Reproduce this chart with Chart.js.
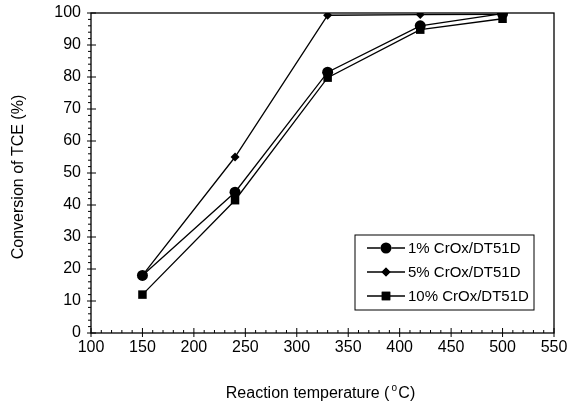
<!DOCTYPE html>
<html>
<head>
<meta charset="utf-8">
<script src="https://cdn.jsdelivr.net/npm/chart.js@4"></script>
<style>
    html, body { margin: 0; padding: 0; background: #fff; }
    #wrap { width: 581px; height: 409px; position: relative; }
</style>
</head>
<body>
<div id="wrap"><canvas id="myChart"></canvas></div>
<script>
const temps = [150, 240, 330, 420, 500];
const cr1 = [18, 44, 81.5, 96, 99.8];
const cr5 = [18, 55, 99.3, 99.5, 99.6];
const cr10 = [12, 41.5, 79.8, 94.8, 98.2];
const seriesNames = ['1% CrOx/DT51D', '5% CrOx/DT51D', '10% CrOx/DT51D'];
const xTicks = [100, 150, 200, 250, 300, 350, 400, 450, 500, 550];
const yTicks = [0, 10, 20, 30, 40, 50, 60, 70, 80, 90, 100];

const font = 'Liberation Sans, Arial, sans-serif';

function pts(vals) {
    return temps.map((t, i) => ({ x: t, y: vals[i] }));
}

function makeSet(label, vals, style, radius) {
    return {
        label: label,
        data: pts(vals),
        borderColor: '#000',
        backgroundColor: '#000',
        borderWidth: 1.3,
        pointStyle: style,
        pointRadius: radius,
        pointBorderWidth: 0,
        pointBackgroundColor: '#000',
        tension: 0
    };
}

// frame, minor ticks, axis titles and legend box
const decor = {
    id: 'decor',
    afterDraw(chart) {
        const ctx = chart.ctx;
        const a = chart.chartArea;
        const xs = chart.scales.x;
        const ys = chart.scales.y;
        ctx.save();
        ctx.strokeStyle = '#000';
        ctx.lineWidth = 1.3;
        ctx.strokeRect(a.left, a.top, a.right - a.left, a.bottom - a.top);

        ctx.lineWidth = 1;
        ctx.beginPath();
        for (let v = 100; v <= 550; v += 10) {
            const px = xs.getPixelForValue(v);
            if (v % 50 === 0) {
                ctx.moveTo(px, a.bottom - 5); ctx.lineTo(px, a.bottom + 4);
            } else {
                ctx.moveTo(px, a.bottom); ctx.lineTo(px, a.bottom - 3);
            }
        }
        for (let v = 0; v <= 100; v += 2) {
            const py = ys.getPixelForValue(v);
            if (v % 10 === 0) {
                ctx.moveTo(a.left - 4, py); ctx.lineTo(a.left + 5, py);
            } else {
                ctx.moveTo(a.left, py); ctx.lineTo(a.left - 3, py);
            }
        }
        ctx.stroke();

        // axis titles
        ctx.fillStyle = '#000';
        ctx.font = '16px ' + font;
        ctx.textAlign = 'center';
        ctx.textBaseline = 'middle';
        const tx = (a.left + a.right) / 2 - 2;
        ctx.fillText('Reaction temperature (  C)', tx, 394);
        const w = ctx.measureText('Reaction temperature (  C)').width;
        const wC = ctx.measureText('C)').width;
        ctx.font = '10px ' + font;
        ctx.fillText('o', tx + w / 2 - wC - 4, 388);

        ctx.font = '16px ' + font;
        ctx.translate(19, 177);
        ctx.rotate(-Math.PI / 2);
        ctx.fillText('Conversion of TCE (%)', 0, 0);
        ctx.restore();

        // legend
        ctx.save();
        const bx = 355, by = 235, bw = 179, bh = 75;
        ctx.fillStyle = '#fff';
        ctx.fillRect(bx, by, bw, bh);
        ctx.strokeStyle = '#000';
        ctx.lineWidth = 1;
        ctx.strokeRect(bx, by, bw, bh);
        ctx.font = '15px ' + font;
        ctx.textAlign = 'left';
        ctx.textBaseline = 'middle';
        chart.data.datasets.forEach((ds, i) => {
            const y = 248 + i * 24;
            ctx.strokeStyle = '#000';
            ctx.lineWidth = 1.3;
            ctx.beginPath();
            ctx.moveTo(367, y); ctx.lineTo(405, y);
            ctx.stroke();
            Chart.helpers.drawPoint(ctx, {
                pointStyle: ds.pointStyle,
                radius: ds.pointRadius,
                borderWidth: 0
            }, 386, y);
            ctx.fillStyle = '#000';
            ctx.fill();
            ctx.fillText(ds.label, 408, y + 1);
        });
        ctx.restore();
    }
};

const ctx = document.getElementById('myChart').getContext('2d');
const myChart = new Chart(ctx, {
    type: 'line',
    data: {
        datasets: [
            makeSet(seriesNames[0], cr1, 'circle', 5.5),
            makeSet(seriesNames[1], cr5, 'rectRot', 4.5),
            makeSet(seriesNames[2], cr10, 'rect', 6)
        ]
    },
    options: {
        responsive: true,
        maintainAspectRatio: false,
        animation: false,
        layout: { padding: { left: 0, right: 27, top: 13, bottom: 0 } },
        plugins: {
            legend: { display: false },
            tooltip: { enabled: false }
        },
        scales: {
            x: {
                type: 'linear',
                min: 100,
                max: 550,
                afterBuildTicks: (s) => { s.ticks = xTicks.map(v => ({ value: v })); },
                afterFit: (s) => {
                    s.height = 409 - 333;
                    s.paddingLeft = 0;
                    s.paddingRight = 0;
                },
                grid: { drawOnChartArea: false, drawTicks: false },
                border: { display: false },
                ticks: {
                    color: '#000',
                    padding: 5,
                    maxRotation: 0,
                    font: { family: font, size: 16 }
                }
            },
            y: {
                min: 0,
                max: 100,
                afterBuildTicks: (s) => { s.ticks = yTicks.map(v => ({ value: v })); },
                afterFit: (s) => {
                    s.width = 91;
                    s.paddingTop = 0;
                    s.paddingBottom = 0;
                },
                grid: { drawOnChartArea: false, drawTicks: false },
                border: { display: false },
                ticks: {
                    color: '#000',
                    padding: 10,
                    font: { family: font, size: 16 }
                }
            }
        }
    },
    plugins: [decor]
});
</script>
</body>
</html>
